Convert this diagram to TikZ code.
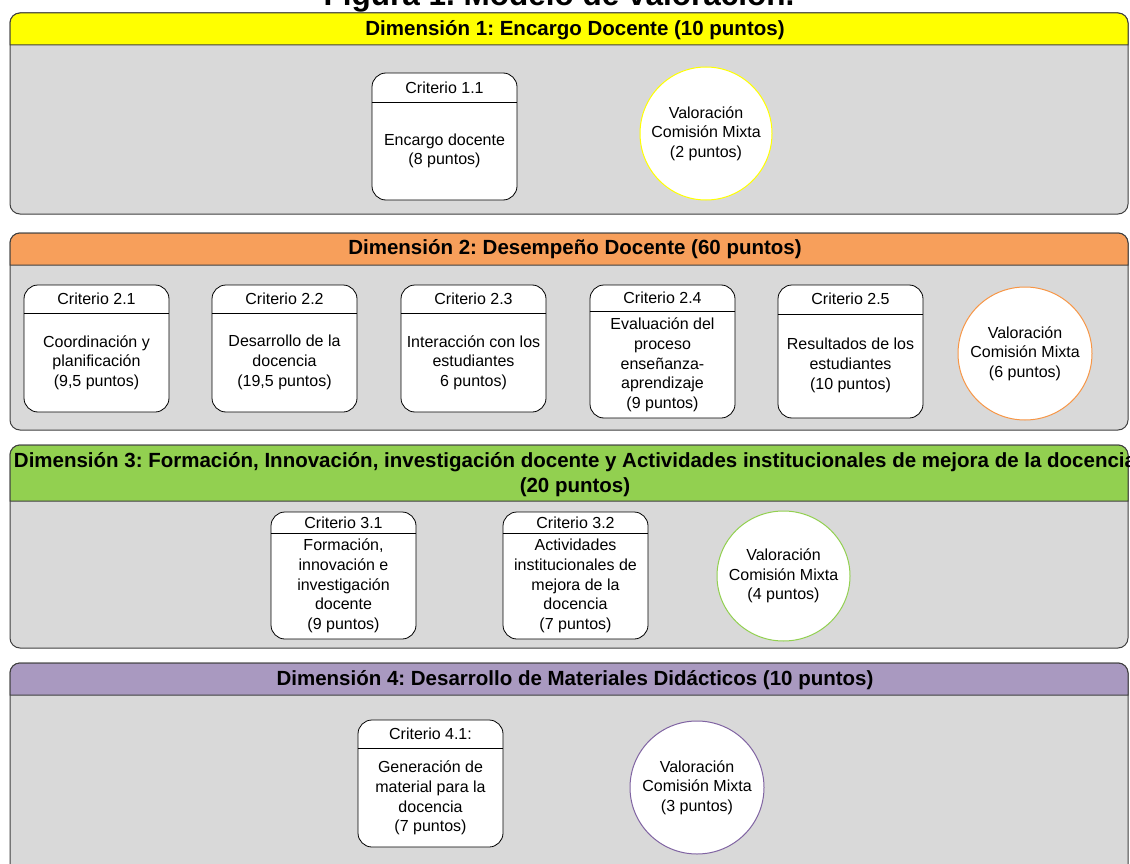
\documentclass[tikz,border=0pt]{standalone}
\usepackage{fontspec}
\setmainfont{Liberation Sans}
\usetikzlibrary{shapes.geometric}
\frenchspacing
\definecolor{panelgray}{HTML}{D9D9D9}
\definecolor{panelline}{HTML}{404040}
\definecolor{hyellow}{HTML}{FFFF00}
\definecolor{horange}{HTML}{F79F5B}
\definecolor{hgreen}{HTML}{92D050}
\definecolor{hpurple}{HTML}{A999C0}
\definecolor{eorange}{HTML}{F79646}
\definecolor{egreen}{HTML}{92D050}
\definecolor{epurple}{HTML}{8064A2}
\tikzset{
  panel/.style={draw=panelline, line width=1pt, fill=panelgray},
  headbar/.style={draw=panelline, line width=1pt},
  headtext/.style={font=\fontsize{20.5}{25}\selectfont\bfseries, align=center, inner sep=0pt},
  crit/.style={draw=black, line width=0.8pt, fill=white, rounded corners=14pt, minimum width=145pt, inner sep=0pt},
  crithead/.style={font=\fontsize{16}{19.7}\selectfont, inner sep=0pt},
  critbody/.style={font=\fontsize{16}{19.7}\selectfont, align=center, inner sep=0pt},
  valor/.style={ellipse, fill=white, line width=1pt, inner sep=0pt},
  valortext/.style={align=center, inner sep=0pt, font=\fontsize{16}{19.7}\selectfont},
}
\newcommand{\mkpanel}[5]{% name, top, headbottom, bottom, colour
  \path[panel, rounded corners=10pt] (10,#2) rectangle (1128,#4);
  \path[headbar, fill=#5] (10,#3) [rounded corners=10pt] -- (10,#2) -- (1128,#2) [sharp corners] -- (1128,#3) -- cycle;
  \coordinate (#1) at (569,#3);
}
\newcommand{\mkcrit}[9]{% name, cx, cy, height, divider y, header y, header, body y, body
  \node[crit, minimum height=#4] (#1) at (#2,#3) {};
  \draw[line width=0.8pt] (#1.west |- 0,#5) -- (#1.east |- 0,#5);
  \node[crithead] (#1h) at (#2,#6) {#7};
  \node[critbody] (#1b) at (#2,#8) {#9};
}
\newcommand{\mkvalor}[6]{% name, cx, cy, width, height, colour
  \node[valor, draw=#6, minimum width=#4, minimum height=#5] (#1) at (#2,#3) {};
  \node[valortext] (#1t) at (#1.center) {Valoración\\Comisión Mixta\\(\valpts\ puntos)};
}
\begin{document}
\begin{tikzpicture}[x=1pt,y=-1pt]
\useasboundingbox (0,0) rectangle (1130,864);
\clip (0,0) rectangle (1130,864);
\fill[white] (0,0) rectangle (1130,864);

\node[font=\fontsize{31.5}{36}\selectfont\bfseries, anchor=base, inner sep=0pt] (title) at (559,6) {Figura 1. Modelo de valoración.};

% Dimension 1
\mkpanel{p1}{13}{45}{214}{hyellow}
\node[headtext] (h1) at (575,30.5) {Dimensión 1: Encargo Docente (10 puntos)};
\mkcrit{c11}{444.5}{136.5}{127}{102}{87.5}{Criterio 1.1}{151}{Encargo docente\\(8 puntos)}
\def\valpts{2}
\mkvalor{e1}{706}{133.5}{132pt}{133pt}{hyellow}

% Dimension 2
\mkpanel{p2}{233}{265}{430}{horange}
\node[headtext] (h2) at (575,249.5) {Dimensión 2: Desempeño Docente (60 puntos)};
\mkcrit{c21}{96.5}{348.5}{127}{313}{298.5}{Criterio 2.1}{362.5}{Coordinación y\\planificación\\(9,5 puntos)}
\mkcrit{c22}{284.5}{348.5}{127}{313}{298.5}{Criterio 2.2}{362.5}{Desarrollo de la\\docencia\\(19,5 puntos)}
\mkcrit{c23}{473.5}{348.5}{127}{313}{298.5}{Criterio 2.3}{362.5}{Interacción con los\\estudiantes\\6 puntos)}
\mkcrit{c24}{662.5}{351.5}{133}{311}{297.5}{Criterio 2.4}{365}{Evaluación del\\proceso\\enseñanza-\\aprendizaje\\(9 puntos)}
\mkcrit{c25}{850.5}{351.5}{133}{314}{298.5}{Criterio 2.5}{365.5}{Resultados de los\\estudiantes\\(10 puntos)}
\def\valpts{6}
\mkvalor{e2}{1025}{353.5}{134pt}{133pt}{eorange}

% Dimension 3
\mkpanel{p3}{445}{501}{648}{hgreen}
\node[headtext] (h3) at (575,475) {Dimensión 3: Formación, Innovación, investigación docente y Actividades institucionales de mejora de la docencia\\(20 puntos)};
\mkcrit{c31}{343.5}{575.5}{127}{533}{522.5}{Criterio 3.1}{586}{Formación,\\innovación e\\investigación\\docente\\(9 puntos)}
\mkcrit{c32}{575.5}{575.5}{127}{533}{522.5}{Criterio 3.2}{586}{Actividades\\institucionales de\\mejora de la\\docencia\\(7 puntos)}
\def\valpts{4}
\mkvalor{e3}{783.5}{576}{133pt}{130pt}{egreen}

% Dimension 4
\mkpanel{p4}{663}{695}{875}{hpurple}
\node[headtext] (h4) at (575,680.5) {Dimensión 4: Desarrollo de Materiales Didácticos (10 puntos)};
\mkcrit{c41}{430.5}{783.5}{127}{748}{733.5}{Criterio 4.1:}{798}{Generación de\\material para la\\docencia\\(7 puntos)}
\def\valpts{3}
\mkvalor{e4}{697}{787.5}{134pt}{133pt}{epurple}
\end{tikzpicture}
\end{document}
